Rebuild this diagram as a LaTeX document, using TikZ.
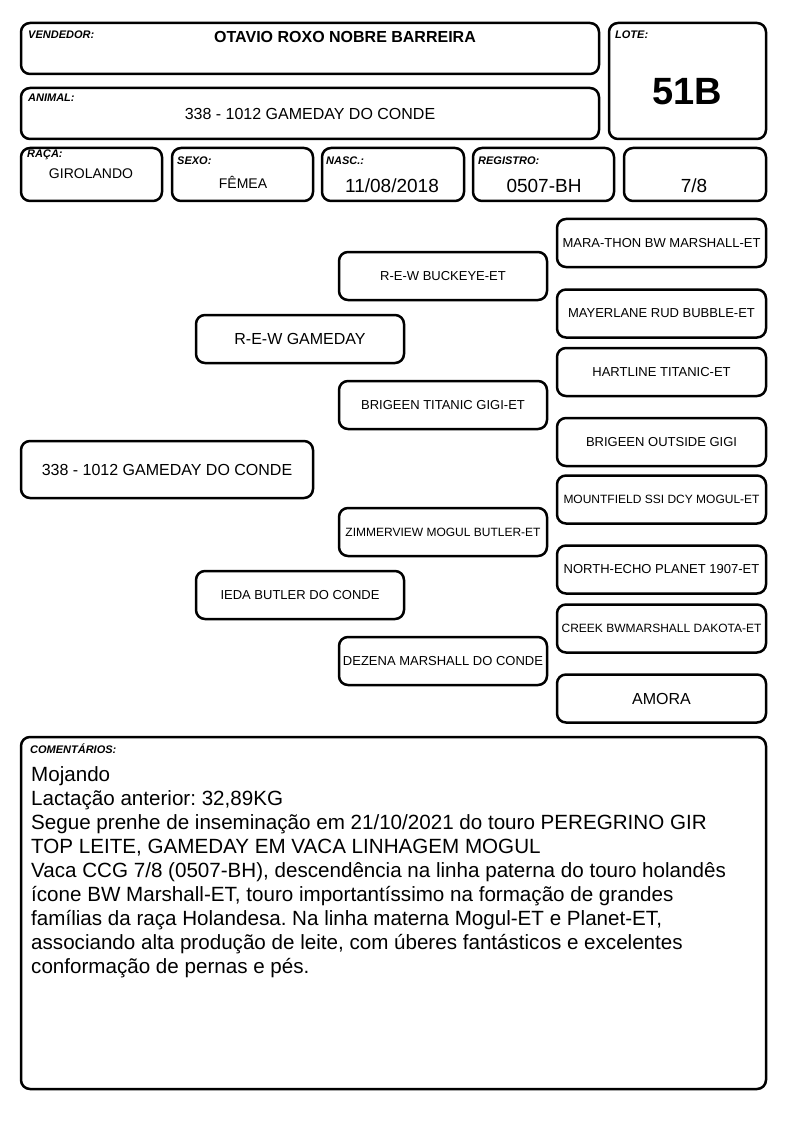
\documentclass[tikz,border=0pt]{standalone}
\usepackage{fontspec}
\setmainfont{Liberation Sans}
\frenchspacing
\newcommand{\fsz}[1]{\fontsize{#1}{1.2\dimexpr#1pt\relax}\selectfont}

\begin{document}
\begin{tikzpicture}[x=1pt,y=-1pt,
  card/.style={draw, line width=2.5pt, rounded corners=9pt, inner sep=0pt},
  tag/.style={anchor=base west, inner sep=0pt, font=\fsz{11}\bfseries\itshape},
  value/.style={anchor=base, inner sep=0pt},
  ancestor/.style={card, minimum width=208pt, minimum height=48pt, align=center},
  grand/.style={ancestor, minimum width=209pt, font=\fsz{13}}]
  \useasboundingbox (0,0) rectangle (794,1123);

  % header
  \node[card, minimum width=578pt, minimum height=51pt] (vendedor) at (310,48.5) {};
  \node[card, minimum width=157pt, minimum height=116pt] (lote) at (687.5,81) {};
  \node[card, minimum width=578pt, minimum height=51pt] (animal) at (310,113.5) {};
  \node[card, minimum width=141pt, minimum height=53pt] (raca) at (91.5,174.5) {};
  \node[card, minimum width=141pt, minimum height=53pt] (sexo) at (242.5,174.5) {};
  \node[card, minimum width=142pt, minimum height=53pt] (nasc) at (393,174.5) {};
  \node[card, minimum width=141pt, minimum height=53pt] (registro) at (543.5,174.5) {};
  \node[card, minimum width=142pt, minimum height=53pt] (grau) at (695,174.5) {};

  \node[tag] (vendedortag) at (28,39) {VENDEDOR:};
  \node[value, font=\fsz{16}\bfseries] (vendedorname) at (345,43) {OTAVIO ROXO NOBRE BARREIRA};
  \node[tag] (lotetag) at (615,39) {LOTE:};
  \node[value, font=\fsz{38}\bfseries] (lotename) at (687,105) {51B};
  \node[tag] (animaltag) at (28,102) {ANIMAL:};
  \node[value, font=\fsz{16}] (animalname) at (310,120) {338 - 1012 GAMEDAY DO CONDE};
  \node[tag] (racatag) at (27,158) {RAÇA:};
  \node[value, font=\fsz{14}] (racaname) at (91,179) {GIROLANDO};
  \node[tag] (sexotag) at (177,165) {SEXO:};
  \node[value, font=\fsz{14}] (sexoname) at (243,189) {FÊMEA};
  \node[tag] (nasctag) at (326,165) {NASC.:};
  \node[value, font=\fsz{19}] (nascname) at (392,193) {11/08/2018};
  \node[tag] (registrotag) at (478,165) {REGISTRO:};
  \node[value, font=\fsz{19}] (registroname) at (544,193) {0507-BH};
  \node[value, font=\fsz{19}] (grauname) at (694,193) {7/8};

  % pedigree
  \node[card, minimum width=292pt, minimum height=57pt, font=\fsz{16}] (self) at (167,469.5) {338 - 1012 GAMEDAY DO CONDE};
  \node[ancestor, font=\fsz{16}] (sire) at (300,339) {R-E-W GAMEDAY};
  \node[ancestor, font=\fsz{13}] (dam) at (300,595) {IEDA BUTLER DO CONDE};
  \node[ancestor, font=\fsz{13}] (ss) at (443,276) {R-E-W BUCKEYE-ET};
  \node[ancestor, font=\fsz{13}] (sd) at (443,405) {BRIGEEN TITANIC GIGI-ET};
  \node[ancestor, font=\fsz{12}] (ds) at (443,532) {ZIMMERVIEW MOGUL BUTLER-ET};
  \node[ancestor, font=\fsz{13}] (dd) at (443,661) {DEZENA MARSHALL DO CONDE};
  \node[grand] (sss) at (661.5,243) {MARA-THON BW MARSHALL-ET};
  \node[grand] (ssd) at (661.5,313.5) {MAYERLANE RUD BUBBLE-ET};
  \node[grand] (sds) at (661.5,372) {HARTLINE TITANIC-ET};
  \node[grand] (sdd) at (661.5,442) {BRIGEEN OUTSIDE GIGI};
  \node[grand, font=\fsz{12}] (dss) at (661.5,499.5) {MOUNTFIELD SSI DCY MOGUL-ET};
  \node[grand] (dsd) at (661.5,569.5) {NORTH-ECHO PLANET 1907-ET};
  \node[grand, font=\fsz{12}] (dds) at (661.5,628.5) {CREEK BWMARSHALL DAKOTA-ET};
  \node[grand, font=\fsz{16}] (ddd) at (661.5,698.5) {AMORA};

  % comments
  \node[card, minimum width=745pt, minimum height=352pt] (comentarios) at (393.5,913) {};
  \node[tag] (comentariostag) at (30,753) {COMENTÁRIOS:};
  \node[anchor=north west, inner sep=0pt, align=left, font=\fontsize{20.6}{24}\selectfont] (comentariostext) at (31,766)
    {Mojando\\
     Lactação anterior: 32,89KG\\
     Segue prenhe de inseminação em 21/10/2021 do touro PEREGRINO GIR\\
     TOP LEITE, GAMEDAY EM VACA LINHAGEM MOGUL\\
     Vaca CCG 7/8 (0507-BH), descendência na linha paterna do touro holandês\\
     ícone BW Marshall-ET, touro importantíssimo na formação de grandes\\
     famílias da raça Holandesa. Na linha materna Mogul-ET e Planet-ET,\\
     associando alta produção de leite, com úberes fantásticos e excelentes\\
     conformação de pernas e pés.};
\end{tikzpicture}
\end{document}
